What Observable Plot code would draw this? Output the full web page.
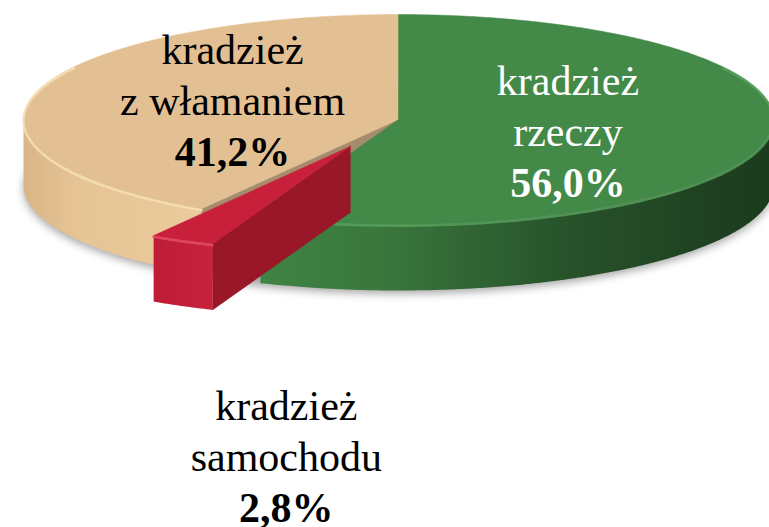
<!DOCTYPE html>
<html><head><meta charset="utf-8">
<script src="https://cdn.jsdelivr.net/npm/d3@7"></script>
<script src="https://cdn.jsdelivr.net/npm/@observablehq/plot@0.6"></script>
<style>html,body{margin:0;padding:0;background:#fff}</style>
</head><body><div id="chart"></div>
<script>
// ---- data ----
const categories = ["kradzież rzeczy", "kradzież samochodu", "kradzież z włamaniem"];
const nameLines = [["kradzież", "rzeczy"], ["kradzież", "samochodu"], ["kradzież", "z włamaniem"]];
const shares = [56.0, 2.8, 41.2];
const shareLabels = ["56,0%", "2,8%", "41,2%"];

// ---- layout / style ----
const W = 769, H = 527;
const CX = 398, RX = 375, CY = 119, RY = 105;
const DEPTH = 66 / RY;
const EXPLODE = [0, 0.285, 0];
const topFill = ["#438947", "#c8203a", "#e3c094"];
const cutFill = ["#2f6432", "#9a1729", "#a58c6c"];
const sideFill = ["url(#sideG)", "url(#sideR)", "url(#sideT)"];
const rimColor = ["#5aa15e", "#e2506a", "#f8e2b8"];
const textFill = ["#ffffff", "#000000", "#000000"];
const FONT = "'Liberation Serif', 'Times New Roman', Times, serif";

const rad = d => d * Math.PI / 180;
const total = d3.sum(shares);
let acc = 0;
const slices = shares.map((v, i) => {
  const a = acc / total * 360; acc += v; const b = acc / total * 360;
  const m = (a + b) / 2;
  return {i, a, b, m, ox: EXPLODE[i] * Math.sin(rad(m)), oy: EXPLODE[i] * Math.cos(rad(m))};
});
const P = (s, t, dz) => ({x: s.ox + Math.sin(rad(t)), y: s.oy + Math.cos(rad(t)) - dz});
const C = (s, dz) => ({x: s.ox, y: s.oy - dz});
function arcPts(s, a, b, dz) {
  const n = Math.max(2, Math.ceil(Math.abs(b - a) / 0.5));
  return d3.range(n + 1).map(k => P(s, a + (b - a) * k / n, dz));
}

const marks = [];
// shadow
const shadowS = {ox: 0, oy: -0.03};
marks.push(Plot.line(arcPts(shadowS, 0, 360, DEPTH), {x: "x", y: "y", fill: "#000", fillOpacity: 0.35, stroke: "none"}));

const order = slices.slice().sort((p, q) => Math.cos(rad(q.m)) - Math.cos(rad(p.m)));
for (const s of order) {
  const i = s.i;
  if (Math.sin(rad(s.a)) < -1e-9) {
    marks.push(Plot.line([C(s, 0), P(s, s.a, 0), P(s, s.a, DEPTH), C(s, DEPTH)], {x: "x", y: "y", fill: cutFill[i], stroke: cutFill[i], strokeWidth: 0.5}));
  }
  if (Math.sin(rad(s.b)) > 1e-9) {
    marks.push(Plot.line([C(s, 0), P(s, s.b, 0), P(s, s.b, DEPTH), C(s, DEPTH)], {x: "x", y: "y", fill: cutFill[i], stroke: cutFill[i], strokeWidth: 0.5}));
  }
  const lo = Math.max(s.a, 90), hi = Math.min(s.b, 270);
  if (hi > lo) {
    marks.push(Plot.line([...arcPts(s, lo, hi, 0), ...arcPts(s, hi, lo, DEPTH)], {x: "x", y: "y", fill: sideFill[i], stroke: "none"}));
  }
  marks.push(Plot.line([C(s, 0), ...arcPts(s, s.a, s.b, 0), C(s, 0)], {x: "x", y: "y", fill: topFill[i], stroke: topFill[i], strokeWidth: 0.5}));
  const rlo = Math.max(s.a, 60), rhi = Math.min(s.b, 300);
  if (rhi > rlo) {
    marks.push(Plot.line(arcPts({ox: s.ox, oy: s.oy - 0.012}, rlo, rhi, 0), {x: "x", y: "y", stroke: rimColor[i], strokeWidth: 2.5, strokeOpacity: 0.8}));
  }
}

// labels
const labels = slices.map(s => {
  const inside = shares[s.i] >= 10;
  return inside
    ? {i: s.i, x: s.ox + 0.46 * Math.sin(rad(s.m)), y: s.oy + 0.65 * Math.cos(rad(s.m))}
    : {i: s.i, x: 0.667 * Math.sin(rad(s.m)), y: -3.21};
});
const lineDy = [-37, 14, 65];
for (const L of labels) {
  const txt = [nameLines[L.i][0], nameLines[L.i][1], shareLabels[L.i]];
  txt.forEach((t, k) => {
    marks.push(Plot.text([{x: L.x, y: L.y, t}], {
      x: "x", y: "y", text: "t", dy: lineDy[k], lineAnchor: "bottom", textAnchor: "middle",
      fontSize: 42, fontFamily: FONT, fontWeight: k === 2 ? "bold" : "normal", fill: textFill[L.i]
    }));
  });
}

const chart = Plot.plot({
  width: W, height: H, margin: 0,
  x: {domain: [-1, 1], range: [CX - RX, CX + RX], axis: null},
  y: {domain: [-1, 1], range: [CY + RY, CY - RY], axis: null},
  style: {background: "#fff", fontFamily: FONT},
  marks
});

const defs = document.createElementNS("http://www.w3.org/2000/svg", "defs");
defs.innerHTML = `
<linearGradient id="sideG" x1="0" x2="1" y1="0" y2="0">
  <stop offset="0" stop-color="#3f8443"/><stop offset="0.25" stop-color="#39763c"/>
  <stop offset="0.6" stop-color="#27522a"/><stop offset="1" stop-color="#1b3a1d"/>
</linearGradient>
<linearGradient id="sideT" x1="0" x2="1" y1="0" y2="0">
  <stop offset="0" stop-color="#d9b586"/><stop offset="0.3" stop-color="#e6c495"/>
  <stop offset="1" stop-color="#ebca9b"/>
</linearGradient>
<linearGradient id="sideR" x1="0" x2="1" y1="0" y2="0">
  <stop offset="0" stop-color="#be1c37"/><stop offset="1" stop-color="#c8223d"/>
</linearGradient>
<filter id="blur" x="-10%" y="-30%" width="120%" height="160%"><feGaussianBlur stdDeviation="4"/></filter>`;
chart.insertBefore(defs, chart.firstChild);
const firstLine = chart.querySelector('g[aria-label="line"]');
if (firstLine) firstLine.setAttribute("filter", "url(#blur)");
chart.querySelectorAll("text").forEach(t => t.style.fontFamily = FONT);
document.getElementById("chart").appendChild(chart);
</script>
</body></html>
